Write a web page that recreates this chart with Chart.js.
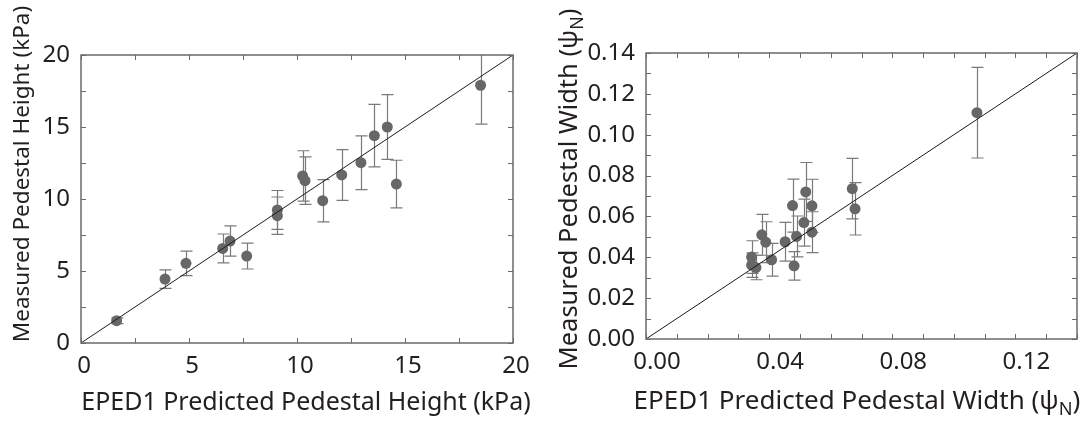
<!DOCTYPE html>
<html>
<head>
<meta charset="utf-8">
<script src="https://cdn.jsdelivr.net/npm/chart.js@4.4.0/dist/chart.umd.min.js"></script>
<style>
  body { margin: 0; background: #fff; }
  .wrap { position: relative; width: 1089px; height: 424px; }
  #left { position: absolute; left: 0; top: 0; }
  #right { position: absolute; left: 545px; top: 0; }
</style>
</head>
<body>
<div class="wrap">
  <canvas id="left" width="545" height="424"></canvas>
  <canvas id="right" width="544" height="424"></canvas>
</div>
<script>
// pedestal height (kPa): EPED1 prediction vs measurement
const predHeight = [1.65, 3.89, 4.86, 6.56, 6.90, 7.67, 9.09, 9.09, 10.26, 10.37, 11.19, 12.07, 12.96, 13.58, 14.18, 14.60, 18.50];
const measHeight = [1.55, 4.44, 5.53, 6.57, 7.08, 6.04, 9.24, 8.84, 11.60, 11.27, 9.88, 11.67, 12.52, 14.40, 15.00, 11.04, 17.90];
const errHeight  = [0.20, 0.64, 0.85, 1.00, 1.05, 0.90, 1.35, 1.30, 1.75, 1.65, 1.47, 1.76, 1.87, 2.17, 2.25, 1.65, 2.70];

// pedestal width (psi_N)
const predWidth = [0.0343, 0.0343, 0.0357, 0.0376, 0.0389, 0.0408, 0.0452, 0.0476, 0.0481, 0.0489, 0.0513, 0.0519, 0.0539, 0.0539, 0.0670, 0.0679, 0.1075];
const measWidth = [0.0401, 0.0362, 0.0350, 0.0510, 0.0474, 0.0388, 0.0476, 0.0653, 0.0358, 0.0502, 0.0570, 0.0720, 0.0652, 0.0523, 0.0736, 0.0637, 0.1108];
const errWidth  = [0.0080, 0.0060, 0.0060, 0.0100, 0.0100, 0.0080, 0.0095, 0.0130, 0.0070, 0.0100, 0.0115, 0.0144, 0.0130, 0.0100, 0.0148, 0.0128, 0.0222];

// axis ranges / y = x reference line
const heightRange = [0, 20];
const widthRange = [0, 0.14];

const FONT = '"Noto Sans", "Open Sans", sans-serif';
const TEXT = '#231f20';

// error bars, drawn under the points
const errorBars = {
  id: 'errorBars',
  beforeDatasetsDraw(chart, args, opts) {
    const { ctx, chartArea: a, scales: { x, y } } = chart;
    ctx.save();
    ctx.beginPath();
    ctx.rect(a.left, a.top, a.right - a.left, a.bottom - a.top);
    ctx.clip();
    ctx.strokeStyle = '#7a7a7a';
    ctx.lineWidth = 1.2;
    opts.xs.forEach((xv, i) => {
      const px = Math.round(x.getPixelForValue(xv)) + 0.5;
      const top = y.getPixelForValue(opts.ys[i] + opts.errs[i]);
      const bot = y.getPixelForValue(opts.ys[i] - opts.errs[i]);
      ctx.beginPath();
      ctx.moveTo(px, top); ctx.lineTo(px, bot);
      ctx.moveTo(px - 6, top); ctx.lineTo(px + 6, top);
      ctx.moveTo(px - 6, bot); ctx.lineTo(px + 6, bot);
      ctx.stroke();
    });
    ctx.restore();
  }
};

// box frame with inward ticks on all four sides
const frame = {
  id: 'frame',
  afterDraw(chart) {
    const { ctx, chartArea: a, scales: { x, y } } = chart;
    ctx.save();
    ctx.strokeStyle = '#6a6a6a';
    ctx.lineWidth = 1;
    ctx.beginPath();
    x.ticks.forEach(t => {
      const px = Math.round(x.getPixelForValue(t.value)) + 0.5;
      ctx.moveTo(px, a.bottom); ctx.lineTo(px, a.bottom - 5);
      ctx.moveTo(px, a.top); ctx.lineTo(px, a.top + 5);
    });
    y.ticks.forEach(t => {
      const py = Math.round(y.getPixelForValue(t.value)) + 0.5;
      ctx.moveTo(a.left, py); ctx.lineTo(a.left + 5, py);
      ctx.moveTo(a.right, py); ctx.lineTo(a.right - 5, py);
    });
    ctx.stroke();
    ctx.lineWidth = 1.5;
    ctx.strokeRect(a.left, a.top, a.right - a.left, a.bottom - a.top);
    ctx.restore();
  }
};

function drawParts(ctx, parts, size) {
  let w = 0;
  parts.forEach(p => {
    ctx.font = (p.sub ? size * 0.7 : size) + 'px ' + FONT;
    p.w = ctx.measureText(p.t).width;
    w += p.w;
  });
  let cx = -w / 2;
  parts.forEach(p => {
    ctx.font = (p.sub ? size * 0.7 : size) + 'px ' + FONT;
    ctx.fillText(p.t, cx, p.sub ? size * 0.3 : 0);
    cx += p.w;
  });
}

// axis titles (with the psi_N subscript)
const titles = {
  id: 'titles',
  afterDraw(chart, args, opts) {
    const { ctx } = chart;
    ctx.save();
    ctx.fillStyle = TEXT;
    ctx.textBaseline = 'middle';
    ctx.textAlign = 'left';
    ctx.save();
    ctx.translate(opts.xPos[0], opts.xPos[1]);
    drawParts(ctx, opts.xTitle, opts.xSize);
    ctx.restore();
    ctx.save();
    ctx.translate(opts.yPos[0], opts.yPos[1]);
    ctx.rotate(-Math.PI / 2);
    drawParts(ctx, opts.yTitle, opts.ySize);
    ctx.restore();
    ctx.restore();
  }
};

function makeChart(el, cfg) {
  return new Chart(document.getElementById(el), {
    type: 'scatter',
    data: {
      datasets: [
        {
          type: 'line',
          data: [{ x: cfg.range[0], y: cfg.range[0] }, { x: cfg.range[1], y: cfg.range[1] }],
          borderColor: '#1a1a1a',
          borderWidth: 1,
          pointRadius: 0,
          order: 0
        },
        {
          data: cfg.xs.map((v, i) => ({ x: v, y: cfg.ys[i] })),
          backgroundColor: '#676767',
          borderWidth: 0,
          pointRadius: 5.5,
          order: 1
        }
      ]
    },
    options: {
      responsive: false,
      animation: false,
      layout: { padding: cfg.padding },
      plugins: {
        legend: { display: false },
        tooltip: { enabled: false },
        errorBars: { xs: cfg.xs, ys: cfg.ys, errs: cfg.errs },
        titles: cfg.titles
      },
      scales: {
        x: {
          type: 'linear', min: cfg.range[0], max: cfg.range[1],
          grid: { display: false }, border: { display: false },
          afterFit: s => { s.height = cfg.xHeight; },
          ticks: {
            stepSize: cfg.step, autoSkip: false, maxRotation: 0, padding: 1,
            labelOffset: cfg.xLabelOffset,
            color: TEXT, font: { family: FONT, size: 24 },
            callback: cfg.xLabel
          }
        },
        y: {
          type: 'linear', min: cfg.range[0], max: cfg.range[1],
          grid: { display: false }, border: { display: false },
          afterFit: s => { s.width = cfg.yWidth; },
          ticks: {
            stepSize: cfg.step, autoSkip: false, padding: 3,
            color: TEXT, font: { family: FONT, size: 24 },
            callback: cfg.yLabel
          }
        }
      }
    },
    plugins: [errorBars, frame, titles]
  });
}

const kpaLabel = v => (Math.abs(v % 5) < 1e-9 ? String(v) : '');

makeChart('left', {
  xs: predHeight, ys: measHeight, errs: errHeight,
  range: heightRange, step: 2.5,
  padding: { top: 55, right: 32, left: 0, bottom: 0 },
  xHeight: 81, yWidth: 81, xLabelOffset: 3,
  xLabel: kpaLabel, yLabel: kpaLabel,
  titles: {
    xSize: 25, ySize: 22.5,
    xTitle: [{ t: 'EPED1 Predicted Pedestal Height (kPa)' }],
    yTitle: [{ t: 'Measured Pedestal Height (kPa)' }],
    xPos: [306, 403], yPos: [23, 174]
  }
});

makeChart('right', {
  xs: predWidth, ys: measWidth, errs: errWidth,
  range: widthRange, step: 0.01,
  padding: { top: 53, right: 12, left: 0, bottom: 0 },
  xHeight: 85, yWidth: 101, xLabelOffset: 11,
  xLabel: v => { const k = Math.round(v * 100); return k % 4 === 0 ? (k / 100).toFixed(2) : ''; },
  yLabel: v => { const k = Math.round(v * 100); return k % 2 === 0 ? (k / 100).toFixed(2) : ''; },
  titles: {
    xSize: 26, ySize: 25.5,
    xTitle: [{ t: 'EPED1 Predicted Pedestal Width (ψ' }, { t: 'N', sub: true }, { t: ')' }],
    yTitle: [{ t: 'Measured Pedestal Width (ψ' }, { t: 'N', sub: true }, { t: ')' }],
    xPos: [312, 402], yPos: [25, 189]
  }
});
</script>
</body>
</html>
